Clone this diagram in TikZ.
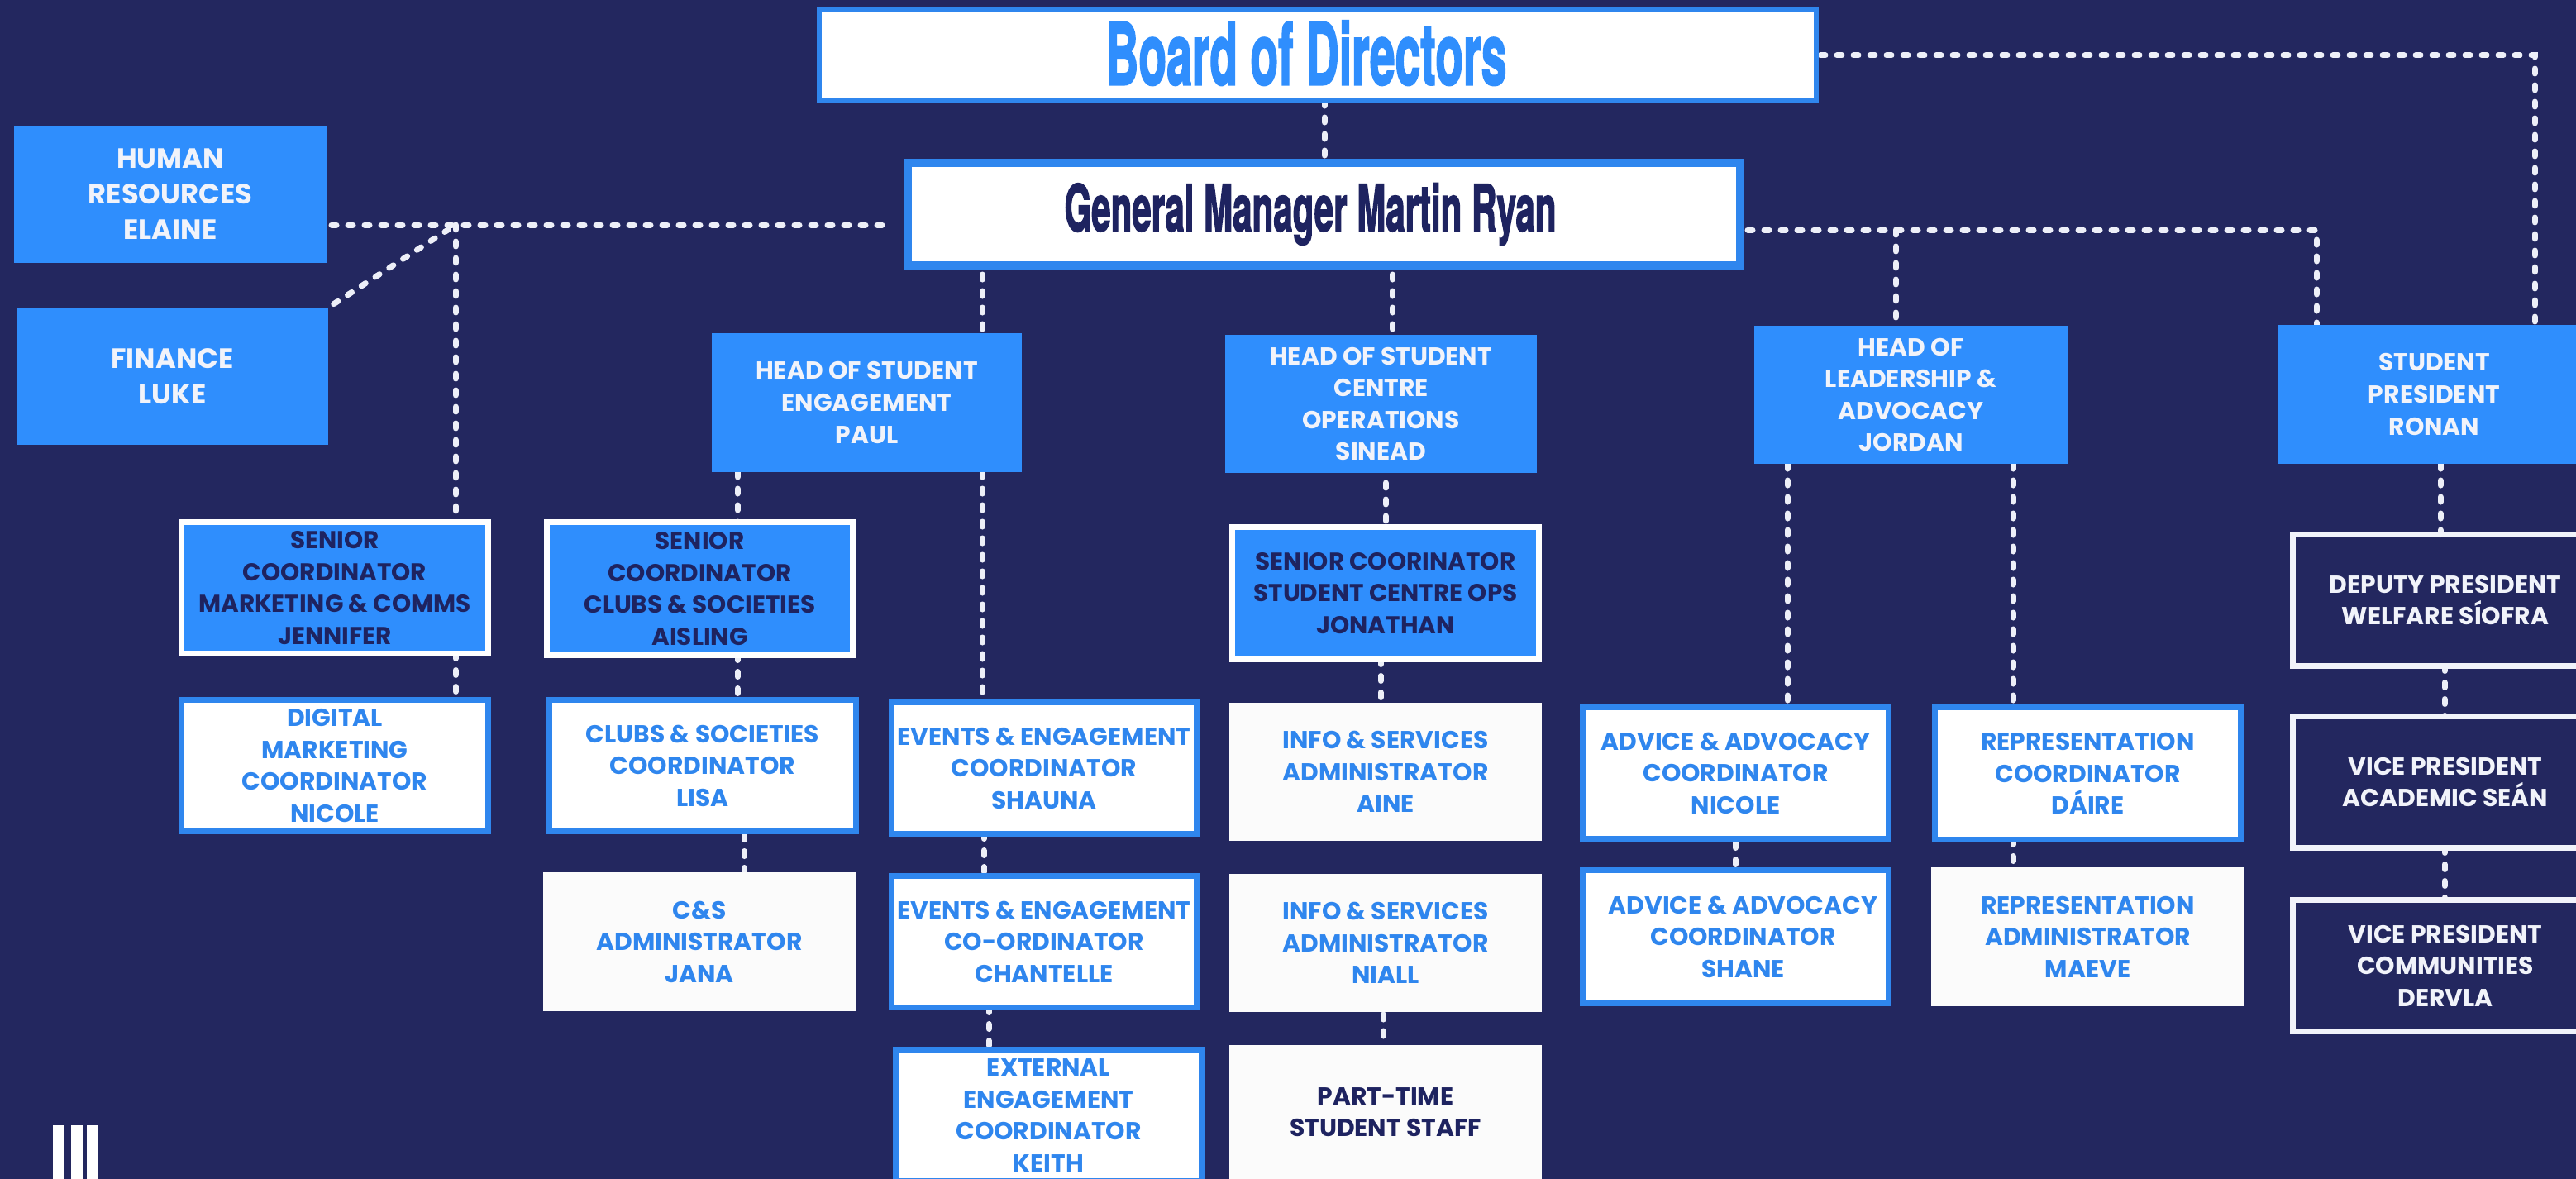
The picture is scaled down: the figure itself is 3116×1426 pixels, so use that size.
\documentclass[tikz,border=0pt]{standalone}
\usepackage{fontspec}
\usepackage{graphicx}
\setmainfont{Poppins}
\newfontfamily\headfont{TeX Gyre Heros}[BoldFeatures={FakeBold=2.5}]
\definecolor{bgnavy}{HTML}{23275F}
\definecolor{inknavy}{HTML}{1E2360}
\definecolor{brandblue}{HTML}{2F8EFD}
\definecolor{edgeblue}{HTML}{2F86EE}
\definecolor{offwhite}{HTML}{FBFBFB}
\definecolor{softwhite}{HTML}{F1F3FA}
\definecolor{dashwhite}{HTML}{EDEFF8}
\newlength{\uu}
\setlength{\uu}{0.025cm}
\pgfdeclarelayer{back}
\pgfdeclarelayer{links}
\pgfsetlayers{back,links,main}
\tikzset{
  x=0.025cm,y=-0.025cm,
  basebox/.style={rectangle,inner sep=0pt,outer sep=0pt,align=center,
    font=\fontsize{21.2}{27.4}\selectfont\bfseries},
  solidblue/.style={basebox,fill=brandblue,text=softwhite},
  seniorbox/.style={basebox,fill=brandblue,draw=white,line width=7\uu,text=inknavy,
    font=\fontsize{21}{27.4}\selectfont\bfseries},
  whitebox/.style={basebox,fill=white,draw=edgeblue,line width=7\uu,text=edgeblue},
  plainbox/.style={basebox,fill=offwhite,text=edgeblue},
  partbox/.style={basebox,fill=offwhite,text=inknavy},
  outlinebox/.style={basebox,draw=softwhite,line width=7\uu,text=softwhite},
  sidebox/.style={basebox,fill=brandblue,text=softwhite,font=\fontsize{24}{30.6}\selectfont\bfseries},
  boardbox/.style={basebox,fill=white,draw=edgeblue,line width=6\uu,text=brandblue},
  gmbox/.style={basebox,fill=white,draw=edgeblue,line width=10\uu,text=inknavy},
  link/.style={draw=dashwhite,line width=7\uu,line cap=round,dash pattern=on 6\uu off 14\uu}
}
% name, style, stroke, L, T, R, B, text
\newcommand{\bx}[8]{\node[#2,minimum width={(#6-#4-#3)*\uu},minimum height={(#7-#5-#3)*\uu}] (#1) at ({(#4+#6)/2},{(#5+#7)/2}) {#8};}
\newcommand{\vlink}[4][]{\path (#4,0) coordinate (tmpv); \draw[link,#1] (#2.south -| tmpv) -- (#3.north -| tmpv);}
\newcommand{\sh}{\hspace*{18\uu}}
\begin{document}
\begin{tikzpicture}
\begin{pgfonlayer}{back}
\fill[bgnavy] (0,0) rectangle (3116,1426);
\end{pgfonlayer}
\path[use as bounding box] (0,0) rectangle (3116,1426);
\clip (0,0) rectangle (3116,1426);

\bx{board}{boardbox}{6}{988}{9}{2200}{125}{\hspace*{-28\uu}\raisebox{6.5\uu}{\resizebox{485\uu}{77\uu}{\headfont\bfseries Board of Directors}}}
\bx{gm}{gmbox}{10}{1093}{192}{2110}{326}{\hspace*{-33\uu}\resizebox*{595\uu}{75\uu}{\headfont\bfseries General Manager Martin Ryan}}

\bx{hr}{sidebox}{0}{17}{152}{395}{318}{HUMAN\\RESOURCES\\ELAINE}
\bx{fin}{sidebox}{0}{20}{372}{397}{538}{FINANCE\\LUKE}

\bx{hose}{solidblue}{0}{861}{403}{1236}{571}{HEAD OF STUDENT\\ENGAGEMENT\\PAUL}
\bx{hosc}{solidblue}{0}{1482}{405}{1859}{572}{HEAD OF STUDENT\\CENTRE\\OPERATIONS\\SINEAD}
\bx{lead}{solidblue}{0}{2122}{394}{2501}{561}{HEAD OF\\LEADERSHIP \&\\ADVOCACY\\JORDAN}
\bx{pres}{solidblue}{0}{2756}{393}{3133}{561}{STUDENT\\PRESIDENT\\RONAN}

\bx{smk}{seniorbox}{7}{216}{628}{594}{794}{SENIOR\\COORDINATOR\\MARKETING \& COMMS\\JENNIFER}
\bx{scl}{seniorbox}{7}{658}{628}{1035}{796}{SENIOR\\COORDINATOR\\CLUBS \& SOCIETIES\\AISLING}
\bx{sops}{seniorbox}{7}{1487}{634}{1865}{801}{SENIOR COORINATOR\\STUDENT CENTRE OPS\\JONATHAN}

\bx{dig}{whitebox}{7}{216}{843}{594}{1009}{DIGITAL\\MARKETING\\COORDINATOR\\NICOLE}
\bx{clc}{whitebox}{7}{661}{843}{1039}{1009}{CLUBS \& SOCIETIES\\COORDINATOR\\LISA}
\bx{csa}{plainbox}{0}{657}{1055}{1035}{1223}{C\&S\\ADMINISTRATOR\\JANA}
\bx{ev1}{whitebox}{7}{1075}{846}{1451}{1012}{EVENTS \& ENGAGEMENT\\COORDINATOR\\SHAUNA}
\bx{ev2}{whitebox}{7}{1075}{1056}{1451}{1222}{EVENTS \& ENGAGEMENT\\CO-ORDINATOR\\CHANTELLE}
\bx{ext}{whitebox}{7}{1080}{1266}{1457}{1432}{EXTERNAL\\ENGAGEMENT\\COORDINATOR\\KEITH}
\bx{inf1}{plainbox}{0}{1487}{850}{1865}{1017}{INFO \& SERVICES\\ADMINISTRATOR\\AINE}
\bx{inf2}{plainbox}{0}{1487}{1057}{1865}{1224}{INFO \& SERVICES\\ADMINISTRATOR\\NIALL}
\bx{part}{partbox}{0}{1487}{1264}{1865}{1426}{PART-TIME\\STUDENT STAFF}
\bx{adv1}{whitebox}{7}{1911}{852}{2288}{1018}{ADVICE \& ADVOCACY\\COORDINATOR\\NICOLE}
\bx{adv2}{whitebox}{7}{1911}{1049}{2288}{1217}{\sh ADVICE \& ADVOCACY\\\sh COORDINATOR\\\sh SHANE}
\bx{rep1}{whitebox}{7}{2337}{852}{2714}{1019}{REPRESENTATION\\COORDINATOR\\DÁIRE}
\bx{rep2}{plainbox}{0}{2336}{1049}{2715}{1217}{REPRESENTATION\\ADMINISTRATOR\\MAEVE}
\bx{dep}{outlinebox}{7}{2770}{643}{3146}{809}{DEPUTY PRESIDENT\\WELFARE SÍOFRA}
\bx{vpa}{outlinebox}{7}{2770}{863}{3146}{1029}{VICE PRESIDENT\\ACADEMIC SEÁN}
\bx{vpc}{outlinebox}{7}{2770}{1085}{3146}{1251}{VICE PRESIDENT\\COMMUNITIES\\DERVLA}

% logo bars
\fill[white] (64,1361) rectangle (78,1426);
\fill[white] (86,1361) rectangle (100,1426);
\fill[white] (105,1361) rectangle (118,1426);

\begin{pgfonlayer}{links}
\coordinate (jl) at (551,272);
\coordinate (jr) at (2293,278);
\coordinate (jend) at (2802,278);
\coordinate (jtop) at (3066,67);
\draw[link,shorten <=6\uu,shorten >=21\uu] (hr.east |- jl) -- (gm.west |- jl);
\draw[link] (jl) -- (smk.north -| jl);
\draw[link,shorten <=8\uu,shorten >=10\uu] (fin.north east) -- (jl);
\draw[link,shorten <=5\uu] (board.east) -- (jtop) -- (pres.north -| jtop);
\draw[link,shorten <=9\uu] (gm.east |- jr) -- (jend) -- (pres.north -| jend);
\draw[link] (jr) -- (lead.north -| jr);
\vlink{board}{gm}{1602}
\vlink[shorten <=11\uu]{gm}{hose}{1188}
\vlink[shorten <=11\uu]{gm}{hosc}{1684}
\vlink{hose}{scl}{892}
\vlink{hose}{ev1}{1188}
\vlink[shorten <=12\uu]{hosc}{sops}{1676}
\vlink{lead}{adv1}{2162}
\vlink{lead}{rep1}{2435}
\vlink{pres}{dep}{2952}
\vlink{smk}{dig}{551}
\vlink{scl}{clc}{892}
\vlink[shorten <=4\uu]{clc}{csa}{900}
\vlink{ev1}{ev2}{1190}
\vlink{ev2}{ext}{1196}
\vlink{sops}{inf1}{1670}
\vlink[shorten <=3\uu]{inf2}{part}{1673}
\vlink[shorten <=5\uu]{adv1}{adv2}{2099}
\vlink{rep1}{rep2}{2435}
\vlink{dep}{vpa}{2957}
\vlink{vpa}{vpc}{2957}
\end{pgfonlayer}
\end{tikzpicture}
\end{document}
